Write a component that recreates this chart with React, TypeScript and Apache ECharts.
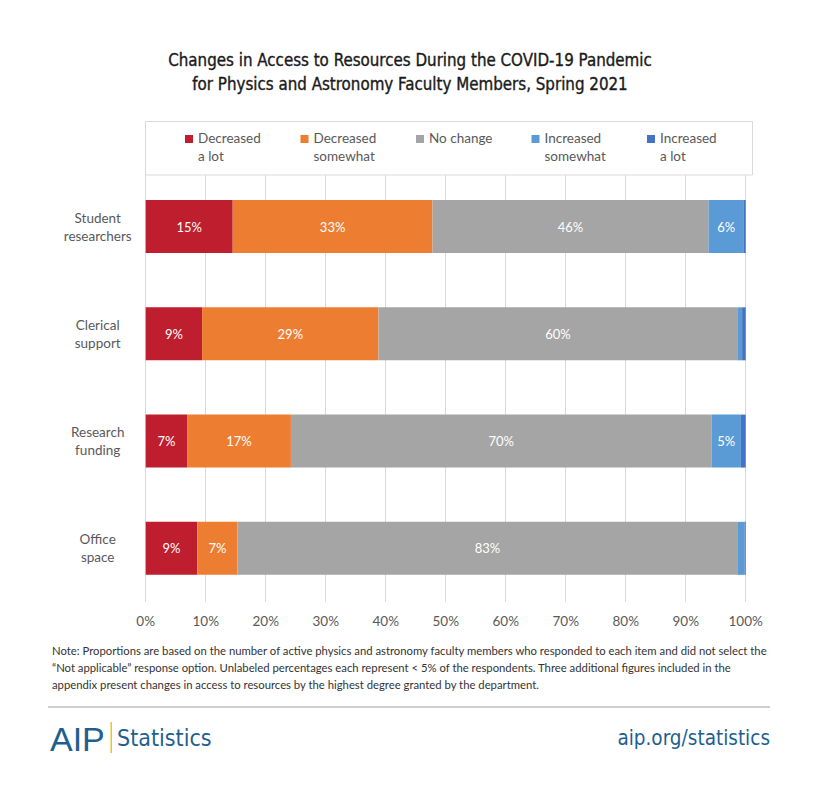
import React, { useEffect, useRef } from "react";
import * as echarts from "echarts";

const categories = ["Student\nresearchers", "Clerical\nsupport", "Research\nfunding", "Office\nspace"];
const seriesNames = ["Decreased\na lot", "Decreased\nsomewhat", "No change", "Increased\nsomewhat", "Increased\na lot"];
const decreasedALot = [14.5, 9.4, 6.9, 8.6];
const decreasedSomewhat = [33.3, 29.4, 17.3, 6.7];
const noChange = [46.0, 59.8, 70.1, 83.3];
const increasedSomewhat = [5.9, 0.8, 4.9, 1.2];
const increasedALot = [0.3, 0.6, 0.8, 0.2];
const xTicks = [0, 10, 20, 30, 40, 50, 60, 70, 80, 90, 100];
const colors = ["#BE1E2D", "#ED7D31", "#A5A5A5", "#5B9BD5", "#4472C4"];

const titleText = "Changes in Access to Resources During the COVID-19 Pandemic\nfor Physics and Astronomy Faculty Members, Spring 2021";
const noteLines = [
  "Note: Proportions are based on the number of active physics and astronomy faculty members who responded to each item and did not select the",
  "\u201CNot applicable\u201D response option. Unlabeled percentages each represent < 5% of the respondents. Three additional figures included in the",
  "appendix present changes in access to resources by the highest degree granted by the department.",
];

const FONT = "Lato, 'Open Sans', sans-serif";
const NARROW = "'Liberation Sans Narrow', 'DejaVu Sans Condensed', 'Roboto', sans-serif";

export default function App() {
  const ref = useRef<HTMLDivElement>(null);
  useEffect(() => {
    document.body.style.margin = "0";
    const chart = echarts.init(ref.current!, null, { renderer: "svg" });
    const values = [decreasedALot, decreasedSomewhat, noChange, increasedSomewhat, increasedALot];
    const series = values.map((data, i) => ({
      name: seriesNames[i],
      type: "bar",
      stack: "total",
      barWidth: 53,
      data,
      itemStyle: { color: colors[i] },
      label: {
        show: true,
        position: "inside",
        color: "#ffffff",
        fontFamily: FONT,
        fontSize: 13,
        formatter: (p: any) => (Math.round(p.value) >= 5 ? Math.round(p.value) + "%" : ""),
      },
    }));
    chart.setOption({
      animation: false,
      color: colors,
      title: {
        text: titleText,
        left: "center",
        top: 48,
        padding: 0,
        textStyle: {
          fontFamily: NARROW,
          fontSize: 16.8,
          fontWeight: "normal",
          lineHeight: 24,
          color: "#1a1a1a",
          textBorderColor: "#1a1a1a",
          textBorderWidth: 0.35,
        },
      },
      legend: {
        left: 185,
        top: 129,
        padding: 0,
        z: 10,
        itemWidth: 8,
        itemHeight: 24,
        itemGap: 10.5,
        icon: "path://M0,0H10V10H0Z M0,30H10",
        data: seriesNames,
        formatter: (name: string) => (name.includes("\n") ? name : name + "\n "),
        textStyle: {
          fontFamily: FONT,
          fontSize: 13.5,
          color: "#595959",
          lineHeight: 18,
          width: 92,
        },
      },
      grid: { left: 145.7, right: 74.3, top: 172.9, bottom: 185, containLabel: false },
      xAxis: {
        type: "value",
        min: xTicks[0],
        max: xTicks[xTicks.length - 1],
        interval: 10,
        axisLine: { show: false },
        axisTick: { show: false },
        splitLine: { show: true, lineStyle: { color: "#d9d9d9", width: 1 } },
        axisLabel: {
          formatter: "{value}%",
          color: "#595959",
          fontFamily: FONT,
          fontSize: 13.5,
          margin: 12,
        },
      },
      yAxis: {
        type: "category",
        inverse: true,
        data: categories,
        axisLine: { show: false },
        axisTick: { show: false },
        axisLabel: {
          align: "center",
          margin: 48,
          color: "#595959",
          fontFamily: FONT,
          fontSize: 13.5,
          lineHeight: 18,
        },
      },
      graphic: [
        {
          type: "rect",
          z: 5,
          shape: { x: 145.5, y: 121.5, width: 607, height: 53.5 },
          style: { fill: "#ffffff", stroke: "#d9d9d9", lineWidth: 1 },
        },
        ...noteLines.map((t, i) => ({
          type: "text",
          x: 52,
          y: 650 + i * 17,
          style: {
            text: t,
            fontFamily: FONT,
            fontSize: 11.3,
            fill: "#333333",
            verticalAlign: "middle",
          },
        })),
        {
          type: "line",
          shape: { x1: 48, y1: 707, x2: 770, y2: 707 },
          style: { stroke: "#bfbfbf", lineWidth: 1.5 },
        },
        {
          type: "text",
          x: 50,
          y: 739,
          style: {
            text: "AIP",
            fontFamily: "'Liberation Sans', sans-serif",
            fontSize: 34,
            fill: "#1F5F8F",
            verticalAlign: "middle",
          },
        },
        {
          type: "rect",
          shape: { x: 110.5, y: 722, width: 1.5, height: 31 },
          style: { fill: "#F2C318" },
        },
        {
          type: "text",
          x: 117,
          y: 738,
          style: {
            text: "Statistics",
            fontFamily: NARROW,
            fontSize: 23,
            fill: "#1F5F8F",
            verticalAlign: "middle",
          },
        },
        {
          type: "text",
          x: 770,
          y: 738,
          style: {
            text: "aip.org/statistics",
            fontFamily: NARROW,
            fontSize: 20.5,
            fill: "#1F5F8F",
            align: "right",
            verticalAlign: "middle",
          },
        },
      ],
      series,
    });
    return () => chart.dispose();
  }, []);
  return <div ref={ref} style={{ width: 820, height: 787 }} />;
}
